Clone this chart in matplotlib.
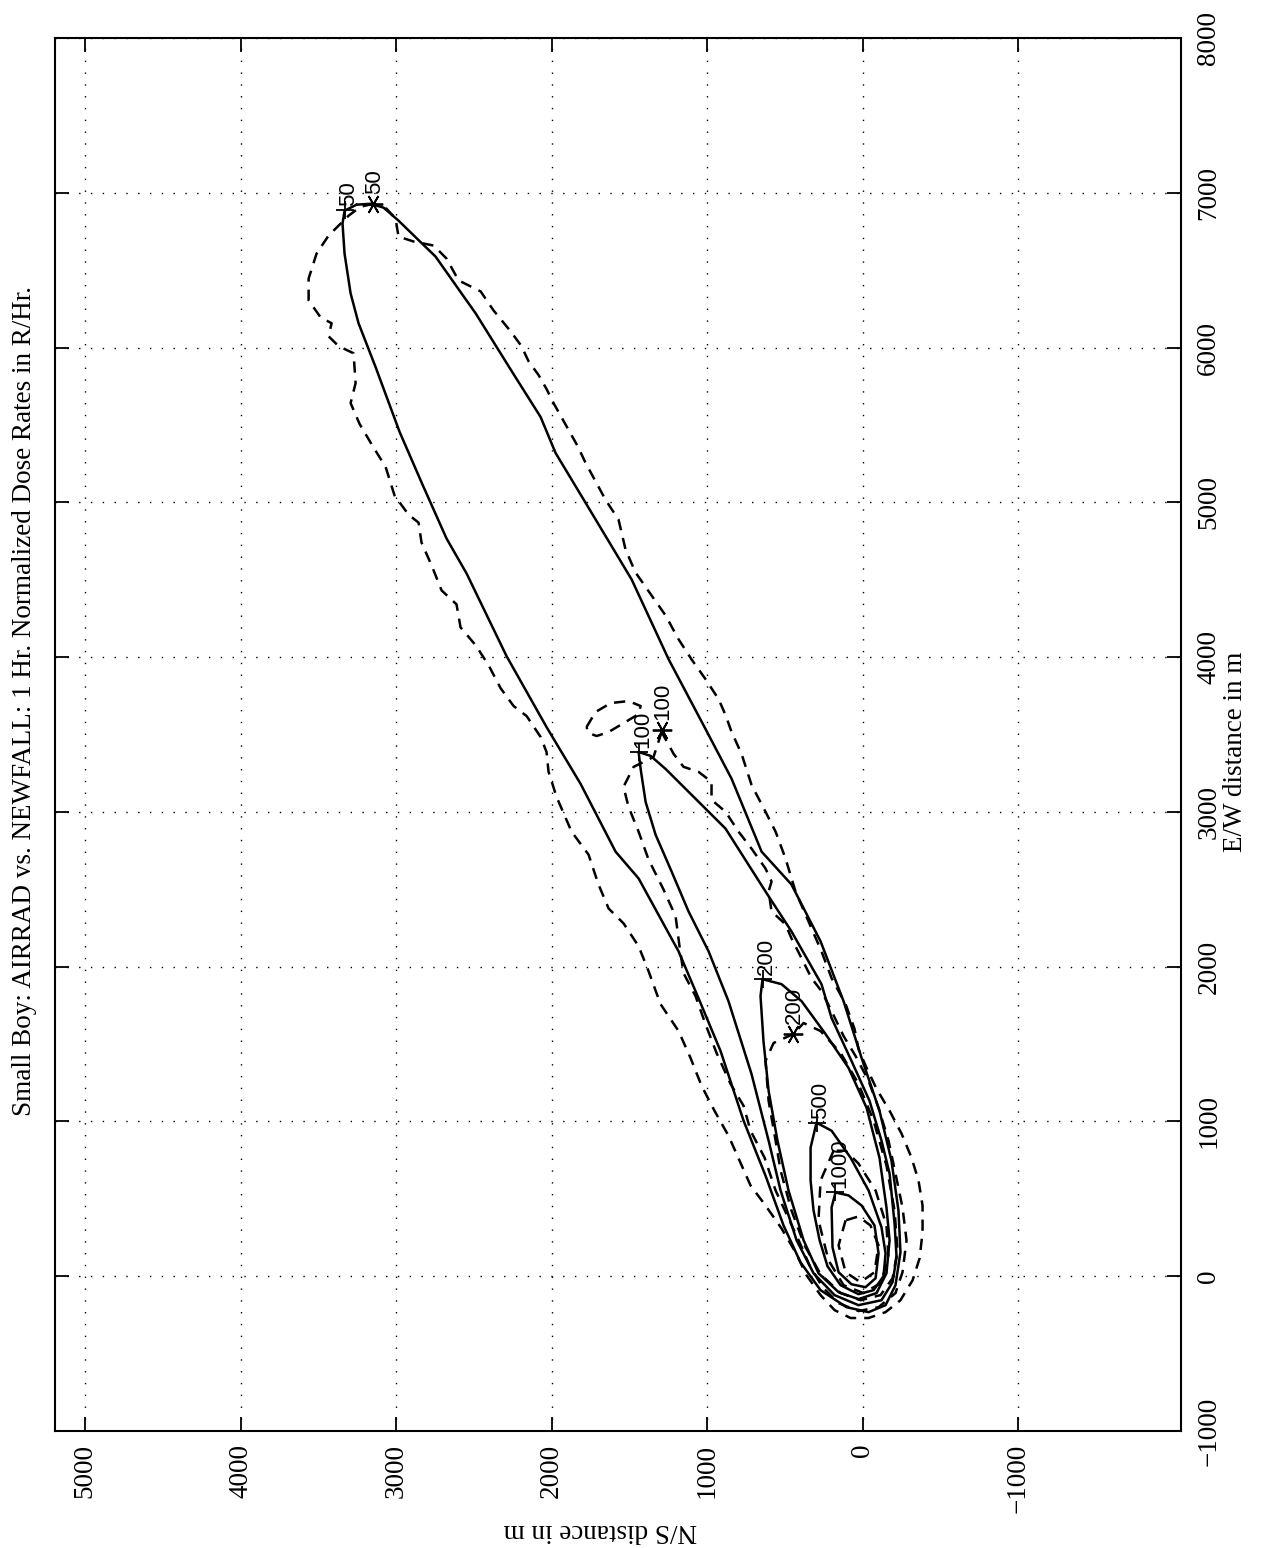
import matplotlib
matplotlib.use("Agg")
import matplotlib.pyplot as plt

SERIF = ["Liberation Serif", "DejaVu Serif"]
SANS = ["Liberation Sans", "DejaVu Sans"]

# ---------------- data (N/S distance, E/W distance) in metres ----------------
ns_ticks = [5000, 4000, 3000, 2000, 1000, 0, -1000]
ew_ticks = [-1000, 0, 1000, 2000, 3000, 4000, 5000, 6000, 7000, 8000]

# AIRRAD contours (solid)
airrad_50_ns = [3254, 3331, 3344, 3331, 3292, 3241, 3131, 2977, 2829, 2675, 2546, 2289, 2032, 1813,
                1588, 1440, 1183, 1055, 913, 765, 624, 508, 399, 270, 103, -39, -148, -212, -244,
                -231, -186, -109, 6, 122, 270, 457, 649, 842, 1010, 1247, 1485, 1781, 1974, 2070,
                2244, 2488, 2746, 2984, 3080, 3164]
airrad_50_ew = [6923, 6884, 6801, 6607, 6350, 6157, 5873, 5455, 5113, 4766, 4540, 4006, 3548, 3181,
                2743, 2570, 2099, 1797, 1455, 1005, 650, 328, 90, -90, -200, -232, -187, -58, 155,
                425, 747, 1069, 1410, 1777, 2164, 2531, 2743, 3214, 3536, 3986, 4502, 4997, 5319,
                5551, 5828, 6221, 6588, 6820, 6904, 6929]

airrad_100_ns = [1440, 1427, 1395, 1331, 1228, 1119, 990, 862, 714, 604, 527, 424, 315, 180, 26,
                 -122, -193, -219, -206, -174, -122, -45, 71, 199, 264, 457, 624, 881, 1164, 1267,
                 1363]
airrad_100_ew = [3387, 3278, 3065, 2853, 2615, 2357, 2099, 1777, 1307, 876, 554, 232, 19, -122,
                 -187, -155, -39, 122, 341, 663, 876, 1133, 1391, 1668, 1887, 2228, 2486, 2892,
                 3175, 3278, 3362]

airrad_200_ns = [643, 656, 637, 604, 547, 476, 379, 283, 154, 26, -90, -154, -174, -154, -109, -26,
                 90, 238, 392, 521]
airrad_200_ew = [1919, 1810, 1520, 1198, 876, 554, 232, 19, -103, -148, -109, 19, 232, 444, 766,
                 1088, 1346, 1565, 1777, 1887]

airrad_500_ns = [296, 334, 334, 315, 276, 225, 141, 26, -71, -135, -148, -122, -39, 77, 199]
airrad_500_ew = [992, 831, 618, 425, 232, 64, -58, -116, -90, 0, 148, 316, 554, 766, 940]

airrad_1000_ns = [174, 199, 193, 154, 71, -19, -84, -103, -77, 6, 90]
airrad_1000_ew = [541, 444, 187, 26, -52, -71, -13, 148, 328, 457, 522]

# NEWFALL contours (dashed)
newfall_50_ns = [3144, 3228, 3305, 3369, 3434, 3511, 3562, 3562, 3485, 3414, 3434, 3369, 3273, 3260,
                 3292, 3234, 3151, 3067, 3009, 2919, 2855, 2836, 2771, 2707, 2611, 2585, 2488, 2405,
                 2328, 2244, 2160, 2070, 2032, 2019, 1968, 1871, 1762, 1698, 1633, 1537, 1440, 1376,
                 1299, 1183, 1106, 1035, 952, 862, 791, 720, 624, 521, 431, 360, 270, 180, 77, -39,
                 -148, -244, -322, -367, -386, -386, -360, -315, -251, -174, -90, -26, 26, 51, 109,
                 199, 264, 367, 431, 495, 559, 624, 714, 778, 842, 881, 926, 1010, 1100, 1183, 1267,
                 1357, 1460, 1524, 1569, 1653, 1781, 1833, 1897, 1987, 2032, 2083, 2148, 2193, 2263,
                 2373, 2456, 2598, 2675, 2758, 2887, 2984, 3003, 3061]
newfall_50_ew = [6929, 6910, 6852, 6788, 6723, 6607, 6446, 6305, 6195, 6157, 6073, 6009, 5963, 5770,
                 5641, 5506, 5365, 5229, 5043, 4920, 4869, 4740, 4592, 4431, 4341, 4192, 4077, 3948,
                 3800, 3684, 3619, 3484, 3387, 3259, 3098, 2872, 2724, 2531, 2376, 2280, 2132, 1971,
                 1758, 1584, 1410, 1230, 1069, 908, 747, 586, 457, 309, 155, 6, -122, -219, -270,
                 -270, -232, -155, -26, 116, 283, 457, 618, 766, 921, 1069, 1211, 1346, 1468, 1597,
                 1758, 1926, 2099, 2338, 2486, 2698, 2872, 3001, 3175, 3375, 3516, 3626, 3729, 3858,
                 3986, 4115, 4270, 4399, 4547, 4695, 4888, 5017, 5255, 5365, 5480, 5641, 5732, 5822,
                 5912, 6009, 6105, 6240, 6363, 6434, 6575, 6659, 6685, 6717, 6833, 6897]

newfall_100_ns = [1292, 1344, 1472, 1537, 1505, 1440, 1376, 1280, 1202, 1177, 1151, 1074, 1010, 939,
                  849, 765, 720, 630, 559, 476, 405, 341, 257, 154, 26, -103, -212, -257, -283,
                  -257, -212, -167, -103, -39, 45, 122, 199, 264, 328, 392, 457, 495, 585, 604, 585,
                  624, 714, 797, 881, 971, 971, 1055, 1151, 1215]
newfall_100_ew = [3516, 3355, 3291, 3162, 3033, 2872, 2692, 2499, 2325, 2132, 1958, 1810, 1629, 1443,
                  1243, 1101, 940, 766, 554, 374, 219, 71, -71, -174, -225, -200, -109, 26, 232,
                  444, 663, 876, 1088, 1262, 1423, 1552, 1713, 1842, 1926, 2054, 2183, 2273, 2357,
                  2486, 2550, 2634, 2763, 2872, 3001, 3078, 3194, 3259, 3291, 3375]

newfall_100b_ns = [1775, 1717, 1620, 1505, 1427, 1440, 1524, 1633, 1710, 1762]
newfall_100b_ew = [3548, 3645, 3703, 3716, 3684, 3632, 3581, 3516, 3490, 3510]

newfall_200_ns = [444, 572, 624, 604, 559, 527, 457, 373, 270, 141, 13, -116, -193, -225, -206,
                  -154, -71, 26, 141, 270, 379]
newfall_200_ew = [1565, 1507, 1391, 1133, 876, 683, 425, 200, 13, -109, -155, -122, -13, 167, 425,
                  715, 1005, 1243, 1443, 1584, 1636]

newfall_500_ns = [186, 270, 283, 219, 122, -6, -116, -167, -154, -84, 26, 109]
newfall_500_ew = [811, 618, 361, 103, -58, -109, -45, 116, 328, 554, 728, 811]

newfall_1000_ns = [109, 154, 109, 13, -77, -103, -51, 26]
newfall_1000_ew = [361, 200, 26, -39, 26, 200, 328, 386]

# contour label positions
airrad_levels = ["50", "100", "200", "500", "1000"]
airrad_label_ns = [3330, 1440, 643, 296, 174]
airrad_label_ew = [6890, 3387, 1919, 992, 541]
newfall_levels = ["50", "100", "200"]
newfall_label_ns = [3150, 1292, 444]
newfall_label_ew = [6929, 3529, 1565]

title = "Small Boy: AIRRAD vs. NEWFALL: 1 Hr. Normalized Dose Rates in R/Hr."

# ---------------- figure ----------------
W, H = 1261, 1548
fig = plt.figure(figsize=(W / 100, H / 100), dpi=100)
ax = fig.add_axes([55 / W, 1 - 1431 / H, 1126 / W, 1393 / H])
ax.set_xlim(5193, -2048)
ax.set_ylim(-1000, 8000)


def loop(ns, ew, **kw):
    ax.plot(list(ns) + [ns[0]], list(ew) + [ew[0]], color="black", lw=1.8,
            solid_joinstyle="round", solid_capstyle="round", **kw)


dash = (0, (4.5, 3.2))
for ns, ew in [(airrad_50_ns, airrad_50_ew), (airrad_100_ns, airrad_100_ew),
               (airrad_200_ns, airrad_200_ew), (airrad_500_ns, airrad_500_ew),
               (airrad_1000_ns, airrad_1000_ew)]:
    loop(ns, ew, linestyle="-")
for ns, ew in [(newfall_50_ns, newfall_50_ew), (newfall_100_ns, newfall_100_ew),
               (newfall_100b_ns, newfall_100b_ew), (newfall_200_ns, newfall_200_ew),
               (newfall_500_ns, newfall_500_ew), (newfall_1000_ns, newfall_1000_ew)]:
    loop(ns, ew, linestyle=dash)

# inline labels: '+' for AIRRAD, asterisk for NEWFALL
ax.plot(airrad_label_ns, airrad_label_ew, linestyle="none", marker="+",
        markersize=13, mew=1.3, color="black")
for lev, x, y in zip(airrad_levels, airrad_label_ns, airrad_label_ew):
    ax.annotate(lev, (x, y), xytext=(3, 3), textcoords="offset points", rotation=90,
                ha="center", va="bottom", fontsize=16, family=SANS)
ax.plot(newfall_label_ns, newfall_label_ew, linestyle="none", marker=(6, 2, 90),
        markersize=14, mew=1.3, color="black")
for lev, x, y in zip(newfall_levels, newfall_label_ns, newfall_label_ew):
    ax.annotate(lev, (x, y), xytext=(1, 7), textcoords="offset points", rotation=90,
                ha="center", va="bottom", fontsize=16, family=SANS)

# axes, ticks, grid
ax.set_xticks(ns_ticks)
ax.set_xticklabels([str(v).replace("-", "\u2212") for v in ns_ticks], rotation=90,
                   family=SERIF, fontsize=19.5)
ax.set_yticks(ew_ticks)
ax.set_yticklabels([str(v).replace("-", "\u2212") for v in ew_ticks], rotation=90,
                   va="center", family=SERIF, fontsize=19.5)
ax.tick_params(axis="both", direction="in", length=10, width=1.3, color="black")
ax.tick_params(axis="x", top=True, bottom=True, labelbottom=True, pad=9)
ax.tick_params(axis="y", left=True, right=True, labelleft=False, labelright=True, pad=11)
ax.grid(True, color="black", linestyle=(0, (1, 7.5)), linewidth=1.0)
for s in ax.spines.values():
    s.set_linewidth(1.5)

fig.text(25 / W, 1 - 701 / H, title, rotation=90, ha="center", va="center",
         fontsize=19.5, family=SERIF)
fig.text(1236 / W, 1 - 752 / H, "E/W distance in m", rotation=90, ha="center",
         va="center", fontsize=19.5, family=SERIF)
fig.text(600 / W, 1 - 1530 / H, "N/S distance in m", rotation=180, ha="center",
         va="center", fontsize=19.5, family=SERIF)

fig.savefig("out.png", dpi=100, facecolor="white")
